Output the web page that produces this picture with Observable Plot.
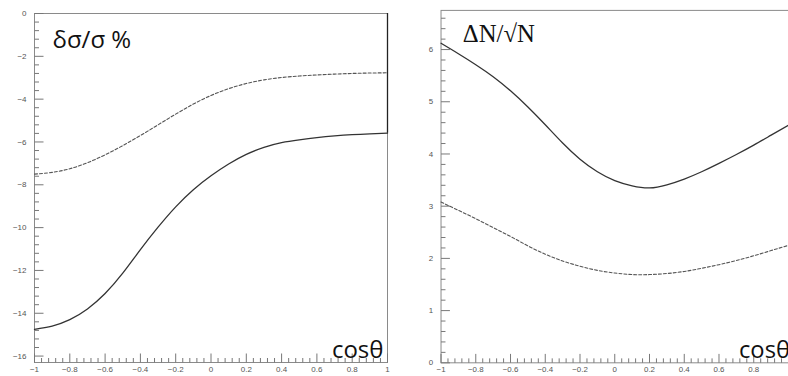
<!DOCTYPE html>
<html>
<head>
<meta charset="utf-8">
<script src="https://cdn.jsdelivr.net/npm/d3@7"></script>
<script src="https://cdn.jsdelivr.net/npm/@observablehq/plot@0.6"></script>
<style>
  html, body { margin: 0; padding: 0; background: #fff; overflow: hidden; width: 788px; height: 376px; }
  #wrap { position: relative; width: 788px; height: 376px; overflow: hidden; }
  #left { position: absolute; left: 0; top: 0; }
  #right { position: absolute; left: 394px; top: 0; }
</style>
</head>
<body>
<div id="wrap"><div id="left"></div><div id="right"></div></div>
<script>
// cos(theta) sample points
const cosTheta = [-1, -0.9, -0.8, -0.7, -0.6, -0.5, -0.4, -0.3, -0.2, -0.1, 0, 0.1, 0.2, 0.3, 0.4, 0.5, 0.6, 0.7, 0.8, 0.9, 1];

// Left panel: δσ/σ %
const leftSolid  = [-14.75, -14.6, -14.3, -13.8, -13.08, -12.13, -11.03, -9.98, -9.03, -8.23, -7.58, -7.03, -6.58, -6.25, -6.03, -5.9, -5.8, -5.72, -5.66, -5.62, -5.59];
const leftDashed = [-7.5, -7.42, -7.25, -6.97, -6.6, -6.17, -5.7, -5.2, -4.7, -4.23, -3.83, -3.51, -3.27, -3.1, -2.99, -2.92, -2.87, -2.83, -2.8, -2.78, -2.77];

// Right panel: ΔN/√N
const rightSolid  = [6.12, 5.92, 5.71, 5.48, 5.21, 4.9, 4.56, 4.21, 3.9, 3.66, 3.49, 3.39, 3.35, 3.41, 3.52, 3.66, 3.82, 3.99, 4.17, 4.36, 4.55];
const rightDashed = [3.08, 2.92, 2.76, 2.59, 2.42, 2.24, 2.08, 1.95, 1.85, 1.77, 1.72, 1.69, 1.69, 1.71, 1.75, 1.81, 1.88, 1.96, 2.05, 2.15, 2.25];

// Tick values
const xMajor = [-1, -0.8, -0.6, -0.4, -0.2, 0, 0.2, 0.4, 0.6, 0.8, 1];
const xMinor = d3.range(-1, 1.0001, 0.04).map(v => +v.toFixed(2));
const leftYMajor = [0, -2, -4, -6, -8, -10, -12, -14, -16];
const leftYMinor = d3.range(0, -16.01, -0.4).map(v => +v.toFixed(2));
const rightYMajor = [0, 1, 2, 3, 4, 5, 6];
const rightYMinor = d3.range(0, 6.75, 0.2).map(v => +v.toFixed(2));

const fmt = v => String(v).replace("-", "\u2212");
const toRows = (ys) => cosTheta.map((x, i) => ({x, y: ys[i]}));

// custom dot symbols drawing inward tick segments
const hTick = len => ({ draw(ctx) { ctx.moveTo(0, 0); ctx.lineTo(len, 0); } });
const vTick = len => ({ draw(ctx) { ctx.moveTo(0, 0); ctx.lineTo(0, -len); } });

function panel({yDomain, yMajor, yMinor, solid, dashed, width, marginLeft, marginRight, marginTop, marginBottom, xLabels, yLabel, yLabelFont, yLabelSize, yLabelDx, yLabelDy, cosDx, cosAnchor, edgeRule}) {
  const xMin = xMinor.filter(v => !xMajor.includes(v));
  const yMin = yMinor.filter(v => !yMajor.includes(v) && v >= yDomain[0] && v <= yDomain[1]);
  const tickStyle = {stroke: "#777", strokeWidth: 1, fill: "none", r: 3};
  const marks = [
    Plot.frame({stroke: "#8a8a8a", strokeWidth: 1}),
    Plot.dot(yMajor, {x: () => -1, y: d => d, symbol: hTick(9), ...tickStyle}),
    Plot.dot(yMin, {x: () => -1, y: d => d, symbol: hTick(4.5), ...tickStyle}),
    Plot.dot(xMajor, {x: d => d, y: () => yDomain[0], symbol: vTick(9), ...tickStyle}),
    Plot.dot(xMin, {x: d => d, y: () => yDomain[0], symbol: vTick(4.5), ...tickStyle}),
    Plot.axisY({ticks: yMajor, tickSize: 0, tickPadding: 8, tickFormat: fmt, fontSize: 8, fill: "#555", label: null, fontFamily: "Liberation Sans, Arial, sans-serif"}),
    Plot.axisX({ticks: xLabels, tickSize: 0, tickPadding: 4, tickFormat: fmt, fontSize: 8, fill: "#555", label: null, fontFamily: "Liberation Sans, Arial, sans-serif"}),
    Plot.line(toRows(dashed), {x: "x", y: "y", stroke: "#555", strokeWidth: 1.1, strokeDasharray: "3,2", curve: "natural"}),
    Plot.line(toRows(solid), {x: "x", y: "y", stroke: "#333", strokeWidth: 1.3, curve: "natural"}),
    Plot.text([yLabel], {frameAnchor: "top-left", textAnchor: "start", lineAnchor: "top", dx: yLabelDx, dy: yLabelDy, fontSize: yLabelSize, fontFamily: yLabelFont, fill: "#111"}),
    Plot.text(["cos\u03b8"], {frameAnchor: "bottom-right", textAnchor: cosAnchor, lineAnchor: "bottom", dx: cosDx, dy: -5, fontSize: 24, fontFamily: "Open Sans, Noto Sans, sans-serif", fill: "#111"})
  ];
  if (edgeRule) {
    marks.push(Plot.ruleX([1], {y1: edgeRule[0], y2: edgeRule[1], stroke: "#222", strokeWidth: 1.3}));
  }
  return Plot.plot({
    width, height: 376,
    marginLeft, marginRight, marginTop, marginBottom,
    x: {domain: [-1, 1]},
    y: {domain: yDomain},
    style: {background: "transparent", overflow: "visible"},
    marks
  });
}

document.getElementById("left").appendChild(panel({
  yDomain: [-16.3, 0], yMajor: leftYMajor, yMinor: leftYMinor,
  solid: leftSolid, dashed: leftDashed,
  width: 394, marginLeft: 34, marginRight: 7, marginTop: 13, marginBottom: 14,
  xLabels: xMajor,
  yLabel: "\u03b4\u03c3/\u03c3 %", yLabelFont: "Open Sans, Noto Sans, sans-serif", yLabelSize: 24, yLabelDx: 18, yLabelDy: 17,
  cosDx: -4, cosAnchor: "end", edgeRule: [0, -5.59]
}));

document.getElementById("right").appendChild(panel({
  yDomain: [0, 6.75], yMajor: rightYMajor, yMinor: rightYMinor,
  solid: rightSolid, dashed: rightDashed,
  width: 398, marginLeft: 47, marginRight: 0, marginTop: 10, marginBottom: 10,
  xLabels: xMajor.filter(v => v < 1),
  yLabel: "\u0394N/\u221aN", yLabelFont: "Liberation Serif, Times New Roman, serif", yLabelSize: 25, yLabelDx: 22, yLabelDy: 14,
  cosDx: -50, cosAnchor: "start", edgeRule: null
}));
</script>
</body>
</html>
